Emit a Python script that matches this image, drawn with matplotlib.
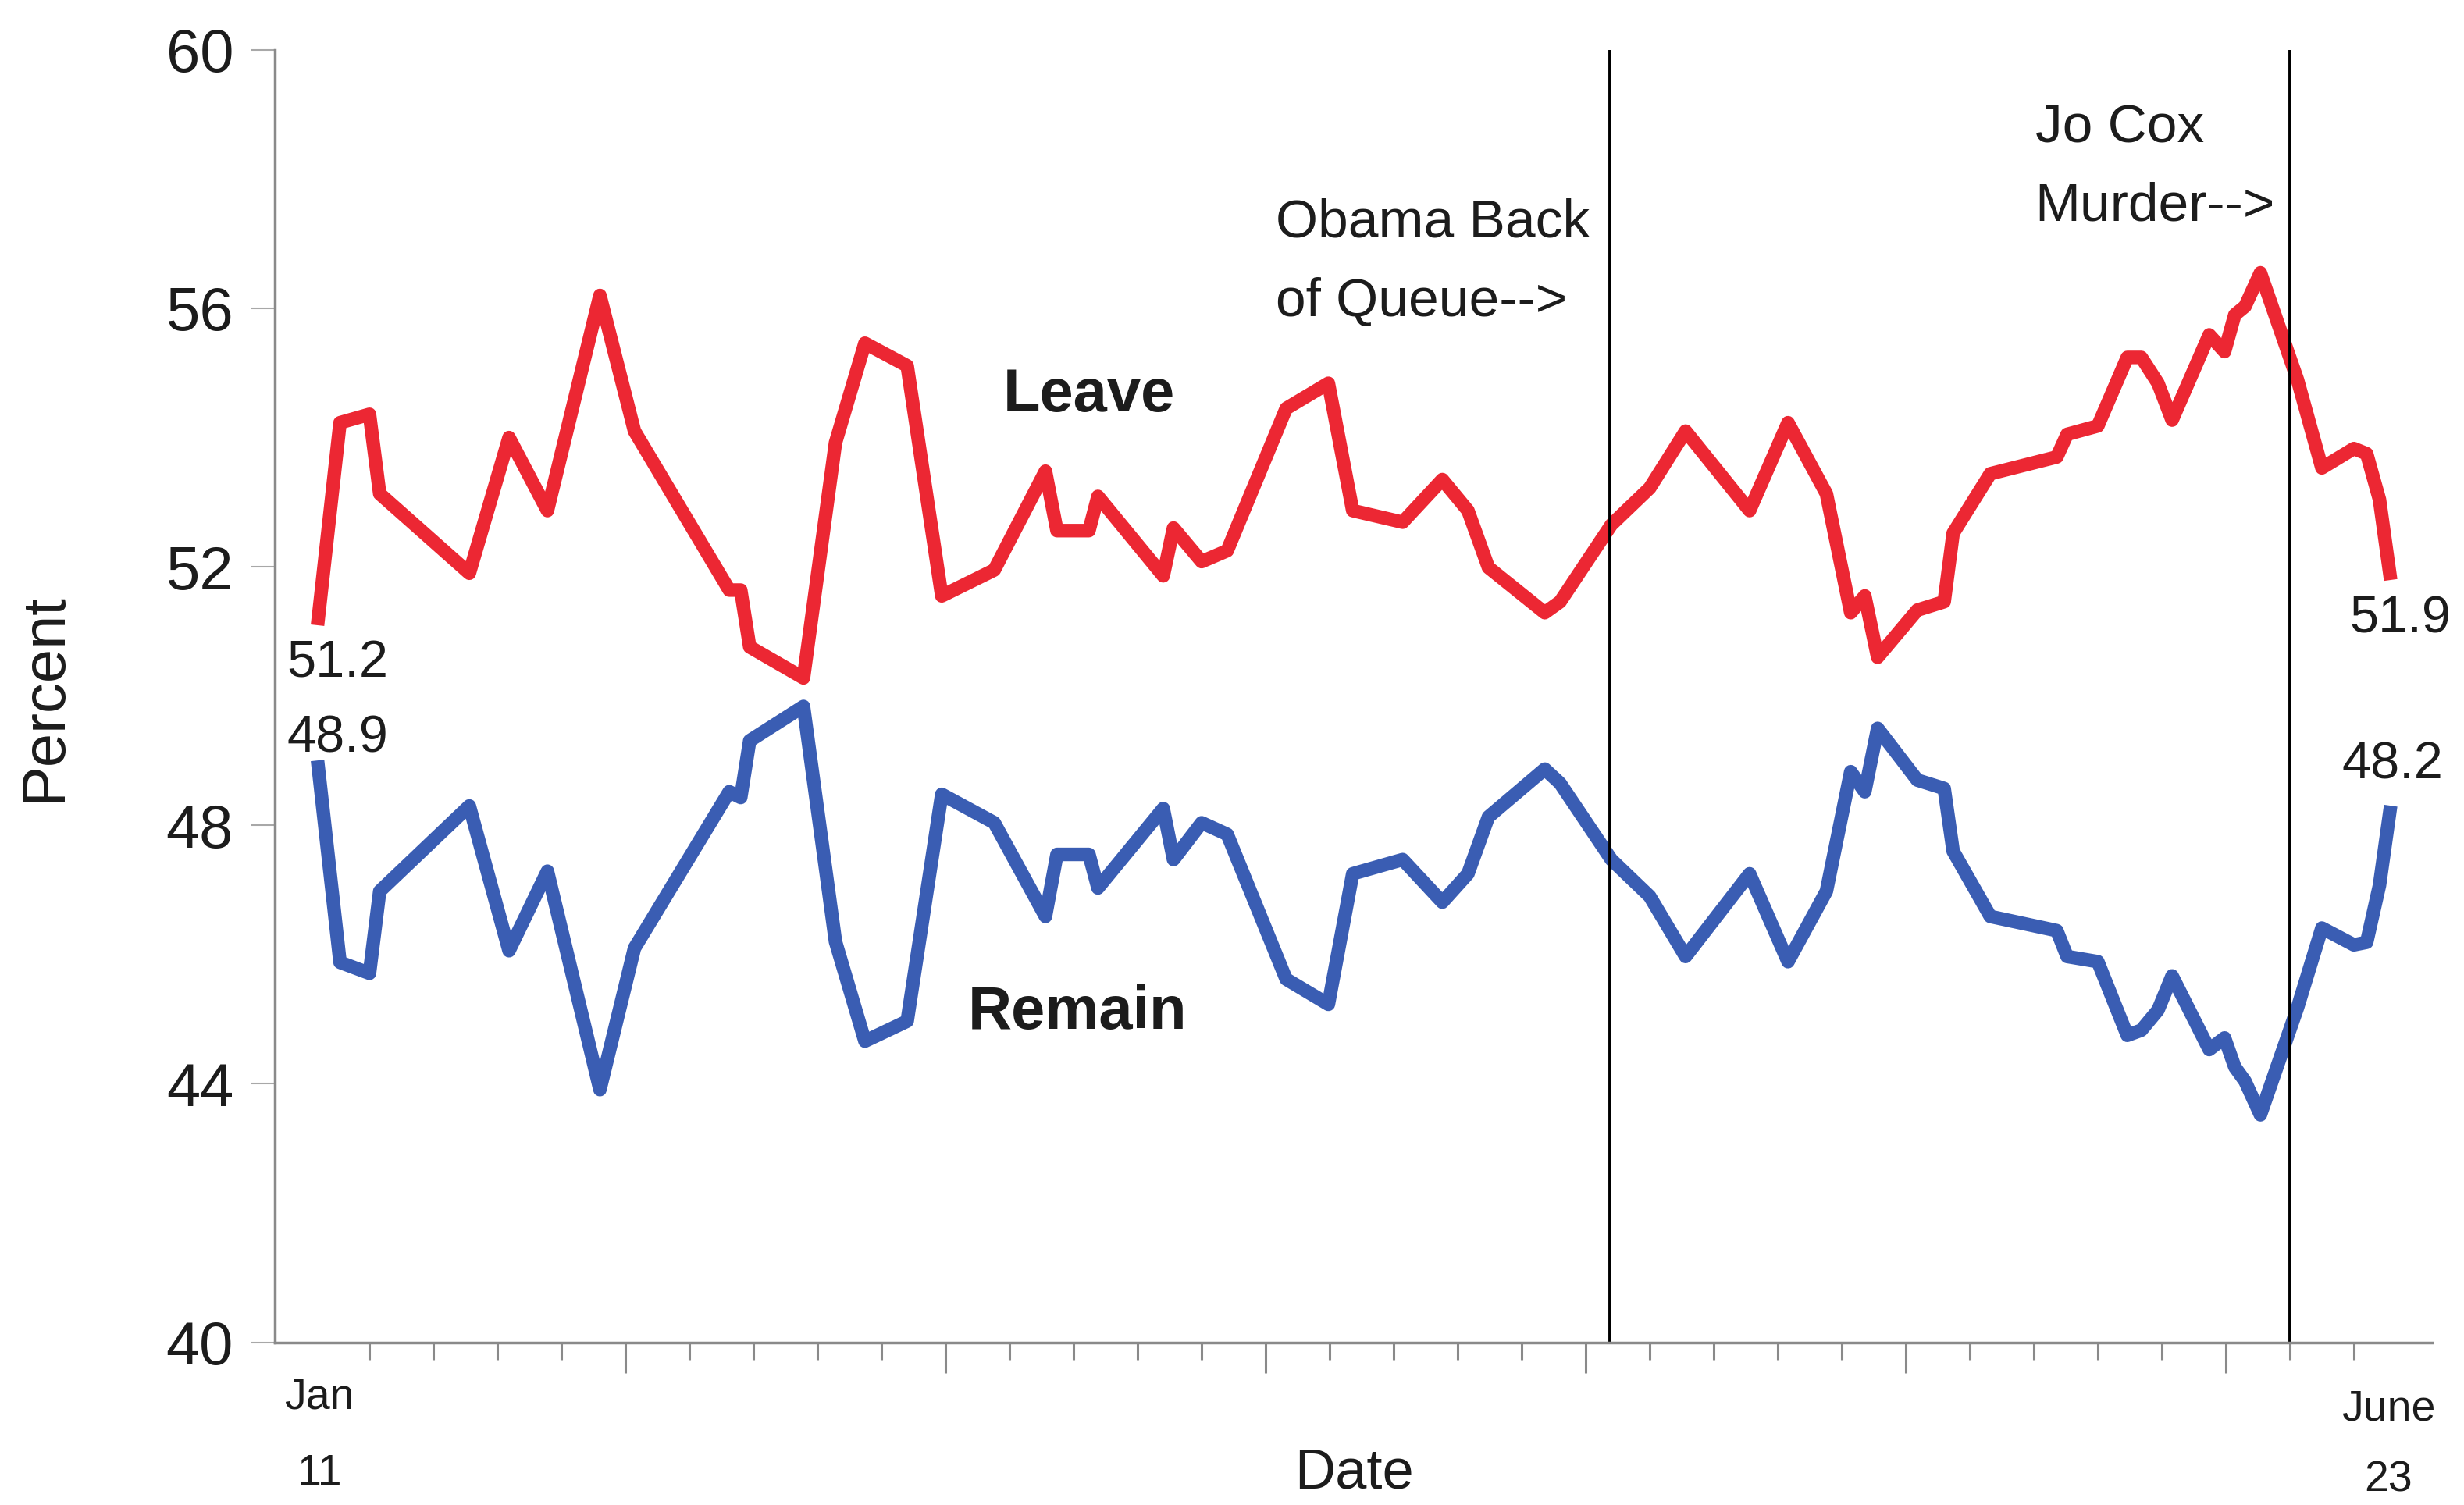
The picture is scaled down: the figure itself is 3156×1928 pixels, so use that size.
import numpy as np
import matplotlib.pyplot as plt

# poll index along the date axis (0 = Jan 11, last = June 23) and shares in percent
obs = [0, 1.7, 4.0, 4.8, 11.8, 14.9, 17.9, 22.0, 24.7, 32.1, 33.0, 33.7, 37.9,
       40.4, 42.7, 46.0, 48.7, 52.8, 56.8, 57.7, 60.2, 60.9, 66.0, 66.8, 69.0,
       71.0, 75.6, 78.9, 80.8, 84.7, 87.8, 89.8, 91.4, 95.8, 97.0, 101.0, 104.0,
       106.8, 111.8, 114.8, 117.8, 119.7, 120.8, 121.8, 124.9, 127.0, 127.7,
       130.6, 135.8, 136.6, 139.0, 141.3, 142.4, 143.7, 144.8, 147.7, 148.9,
       149.7, 150.5, 151.7, 154.6, 156.5, 159.0, 160.0, 161.0, 161.8]
leave = [51.2, 54.23, 54.36, 53.13, 51.9, 54.0, 52.87, 56.2, 54.1, 51.64, 51.64,
         50.76, 50.28, 53.92, 55.46, 55.11, 51.55, 51.95, 53.48, 52.56, 52.56,
         53.09, 51.86, 52.6, 52.08, 52.25, 54.45, 54.84, 52.87, 52.69, 53.35,
         52.87, 51.99, 51.29, 51.46, 52.65, 53.22, 54.1, 52.87, 54.23, 53.13,
         51.29, 51.55, 50.6, 51.33, 51.46, 52.52, 53.44, 53.7, 54.05, 54.18,
         55.24, 55.24, 54.84, 54.27, 55.59, 55.33, 55.9, 56.03, 56.55, 54.89,
         53.53, 53.83, 53.75, 53.04, 51.9]
remain = [48.9, 45.88, 45.71, 46.98, 48.3, 46.06, 47.29, 43.91, 46.1, 48.52, 48.43,
          49.31, 49.84, 46.2, 44.66, 44.97, 48.48, 48.04, 46.59, 47.55, 47.55,
          47.03, 48.26, 47.47, 48.04, 47.86, 45.62, 45.23, 47.25, 47.47, 46.81,
          47.25, 48.13, 48.87, 48.65, 47.47, 46.9, 45.97, 47.25, 45.89, 46.98,
          48.83, 48.52, 49.5, 48.7, 48.57, 47.6, 46.59, 46.37, 45.97, 45.89,
          44.75, 44.83, 45.14, 45.67, 44.53, 44.71, 44.26, 44.04, 43.52, 45.18,
          46.41, 46.15, 46.19, 47.07, 48.2]

y_ticks = [40, 44, 48, 52, 56, 60]
obama_x = 100.9
jocox_x = 154.0

plt.rcParams['font.family'] = ['Liberation Sans', 'DejaVu Sans']
txt = '#1c1c1c'
grey = '#8a8a8a'

fig = plt.figure(figsize=(31.56, 19.28), dpi=100)
ax = fig.add_axes([0.1115, 0.1081, 0.8755, 0.8588])

ax.plot(obs, leave, color='#ec2733', lw=12.5, solid_joinstyle='round')
ax.plot(obs, remain, color='#3a5db3', lw=12.5, solid_joinstyle='round')
ax.axvline(obama_x, color='black', lw=2.8)
ax.axvline(jocox_x, color='black', lw=2.8)

ax.set_xlim(-3.4, 165.1)
ax.set_ylim(40, 60)

for s in ['top', 'right']:
    ax.spines[s].set_visible(False)
for s in ['left', 'bottom']:
    ax.spines[s].set_color(grey)
    ax.spines[s].set_linewidth(2.5)

ax.set_yticks(y_ticks)
ax.tick_params(axis='y', length=22, width=1.5, color='#a8a8a8', pad=16,
               labelsize=56, labelcolor=txt)

minor = np.arange(4, 162, 5)
ax.set_xticks(minor[4::5], labels=[])
ax.set_xticks(minor, minor=True)
ax.tick_params(axis='x', which='major', length=28, width=2.2, color=grey)
ax.tick_params(axis='x', which='minor', length=16, width=2.2, color=grey)

# end points
ax.text(1.5, 50.5, '51.2', fontsize=48, color=txt, ha='center', va='center')
ax.text(1.5, 49.34, '48.9', fontsize=48, color=txt, ha='center', va='center')
ax.text(162.6, 51.19, '51.9', fontsize=48, color=txt, ha='center', va='center')
ax.text(162.0, 48.93, '48.2', fontsize=48, color=txt, ha='center', va='center')

# series names
ax.text(60.2, 54.65, 'Leave', fontsize=56, fontweight='bold', color=txt,
        ha='center', va='center')
ax.text(59.3, 45.1, 'Remain', fontsize=56, fontweight='bold', color=txt,
        ha='center', va='center')

# events
ax.text(74.8, 57.32, 'Obama Back', fontsize=50, color=txt, va='center')
ax.text(74.8, 56.1, 'of Queue-->', fontsize=50, color=txt, va='center')
ax.text(134.1, 58.78, 'Jo Cox', fontsize=50, color=txt, va='center')
ax.text(134.1, 57.57, 'Murder-->', fontsize=50, color=txt, va='center')

# date labels under the axis
tr = ax.get_xaxis_transform()
ax.text(0.1, -0.043, 'Jan', transform=tr, fontsize=40, color=txt, ha='center', va='center')
ax.text(0.1, -0.102, '11', transform=tr, fontsize=40, color=txt, ha='center', va='center')
ax.text(161.7, -0.052, 'June', transform=tr, fontsize=40, color=txt, ha='center', va='center')
ax.text(161.7, -0.107, '23', transform=tr, fontsize=40, color=txt, ha='center', va='center')
ax.text(80.9, -0.102, 'Date', transform=tr, fontsize=52, color=txt, ha='center', va='center')

fig.text(0.018, 0.537, 'Percent', rotation=90, fontsize=56, color=txt,
         ha='center', va='center')

fig.savefig('out.png', dpi=100)
